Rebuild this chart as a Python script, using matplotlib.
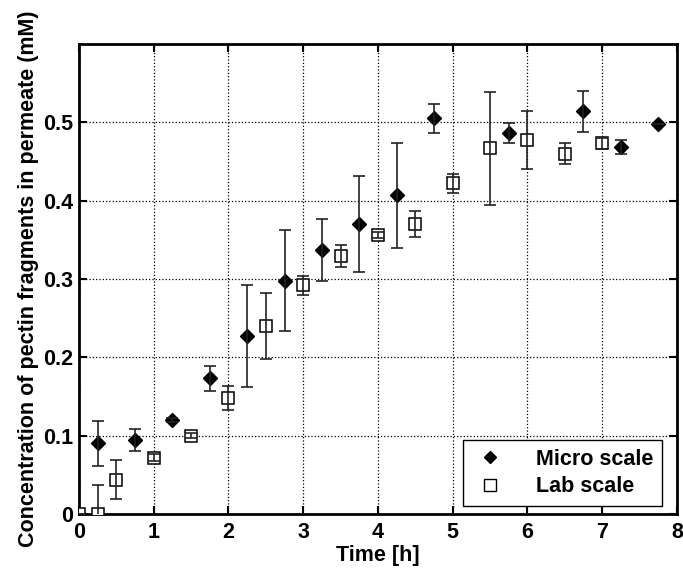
import matplotlib.pyplot as plt
from matplotlib.lines import Line2D

# micro scale (diamonds)
t_micro = [0, 0.25, 0.75, 1.25, 1.75, 2.25, 2.75, 3.25, 3.75, 4.25, 4.75, 5.75, 6.75, 7.25, 7.75]
c_micro = [0, 0.090, 0.095, 0.120, 0.173, 0.227, 0.298, 0.337, 0.370, 0.407, 0.505, 0.486, 0.514, 0.469, 0.498]
e_micro = [0, 0.029, 0.014, 0.003, 0.016, 0.065, 0.065, 0.040, 0.061, 0.067, 0.019, 0.013, 0.026, 0.009, 0]

# lab scale (squares)
t_lab = [0, 0.25, 0.5, 1, 1.5, 2, 2.5, 3, 3.5, 4, 4.5, 5, 5.5, 6, 6.5, 7]
c_lab = [0, 0, 0.044, 0.072, 0.100, 0.148, 0.240, 0.292, 0.329, 0.356, 0.370, 0.422, 0.467, 0.477, 0.460, 0.473]
e_lab = [0, 0.037, 0.025, 0.004, 0.003, 0.015, 0.042, 0.012, 0.014, 0.004, 0.017, 0.012, 0.072, 0.037, 0.013, 0.007]

plt.rcParams['font.family'] = ['Liberation Sans', 'DejaVu Sans']
plt.rcParams['font.weight'] = 'bold'
fs = 15.5

fig = plt.figure(figsize=(6.83, 5.69), dpi=100)
ax = fig.add_axes([0.1157, 0.0967, 0.8753, 0.826])

# markers first, error bars drawn on top of them
ax.plot(t_micro, c_micro, 'D', color='black', ms=7, zorder=3)
ax.plot(t_lab, c_lab, 's', mfc='white', mec='black', ms=8, mew=1.1, zorder=3)
ax.errorbar(t_micro, c_micro, yerr=e_micro, fmt='none', ecolor='#222222',
            elinewidth=1.2, capsize=4.5, capthick=1.2, zorder=4)
ax.errorbar(t_lab, c_lab, yerr=e_lab, fmt='none', ecolor='#222222',
            elinewidth=1.2, capsize=4.5, capthick=1.2, zorder=4)

ax.set_xlim(0, 8)
ax.set_ylim(0, 0.6)
ax.set_xticks(range(0, 9))
ax.set_yticks([0, 0.1, 0.2, 0.3, 0.4, 0.5])
ax.set_yticklabels(['0', '0.1', '0.2', '0.3', '0.4', '0.5'])
ax.grid(True, linestyle=':', color='black', linewidth=0.9)
ax.tick_params(direction='in', top=True, right=True, length=6, width=1.5, labelsize=fs)
ax.tick_params(axis='x', pad=6)
ax.tick_params(axis='y', pad=4)
for s in ax.spines.values():
    s.set_linewidth(2)

ax.set_xlabel('Time [h]', fontsize=fs, fontweight='bold', labelpad=1)
ax.set_ylabel('Concentration of pectin fragments in permeate (mM)', fontsize=fs,
              fontweight='bold', labelpad=3)

handles = [Line2D([], [], ls='none', marker='D', ms=6, color='black'),
           Line2D([], [], ls='none', marker='s', ms=8, mfc='white', mec='black', mew=1)]
leg = ax.legend(handles, ['Micro scale', 'Lab scale'], loc='lower right',
                bbox_to_anchor=(0.975, 0.017), borderaxespad=0, fontsize=fs,
                fancybox=False, framealpha=1, edgecolor='black',
                handletextpad=1.3, handlelength=1.7, borderpad=0.4, labelspacing=0.3)
leg.get_frame().set_linewidth(1)

fig.savefig('out.png', dpi=100)
